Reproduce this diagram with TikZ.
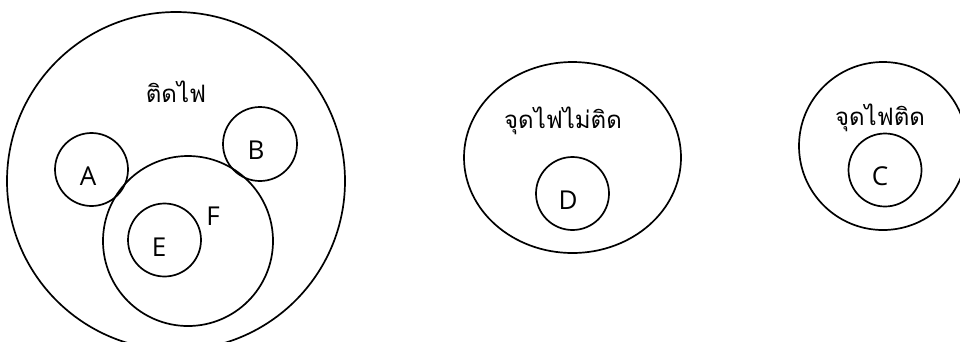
\documentclass[tikz,border=0pt]{standalone}
\usepackage{fontspec}
\newfontfamily\thaifont[Script=Thai]{Loma}
\newfontfamily\latfont{Open Sans}
\usetikzlibrary{shapes.geometric}
\begin{document}
\begin{tikzpicture}[x=1pt,y=-1pt,
  ring/.style={draw,circle,line width=1.7pt,inner sep=0pt,minimum size=#1},
  oval/.style={draw,ellipse,line width=1.7pt,inner sep=0pt},
  lbl/.style={font=\thaifont\fontsize{24}{26}\selectfont,inner sep=0pt},
  let/.style={font=\latfont\fontsize{26}{28}\selectfont,inner sep=0pt}]
\useasboundingbox (0,0) rectangle (960,341);
\begin{scope}
\clip (0,0) rectangle (960,341);
% big circle
\node[ring=338pt] (fire) at (176,181) {};
\node[ring=73pt] (ca) at (91.5,169.5) {};
\node[ring=74pt] (cb) at (260,144) {};
\node[ring=170pt] (cf) at (188,241) {};
\node[ring=73pt] (ce) at (164.5,240) {};
% middle ellipse
\node[oval,minimum width=217pt,minimum height=191pt] (nofire) at (572.5,157.5) {};
\node[ring=73pt] (cd) at (572.5,193.5) {};
% right circle
\node[ring=168pt] (lit) at (883,146) {};
\node[ring=73pt] (cc) at (885,170) {};
\end{scope}
% labels
\node[lbl] (tfire) at (176,92) {ติดไฟ};
\node[lbl] (tnofire) at (563,121) {จุดไฟไม่ติด};
\node[lbl] (tlit) at (880,118) {จุดไฟติด};
\node[let] (la) at (88,176) {A};
\node[let] (lb) at (256,150) {B};
\node[let] (lc) at (880,176) {C};
\node[let] (ld) at (568,200) {D};
\node[let] (le) at (159,247) {E};
\node[let] (lf) at (213,216) {F};
\end{tikzpicture}
\end{document}
